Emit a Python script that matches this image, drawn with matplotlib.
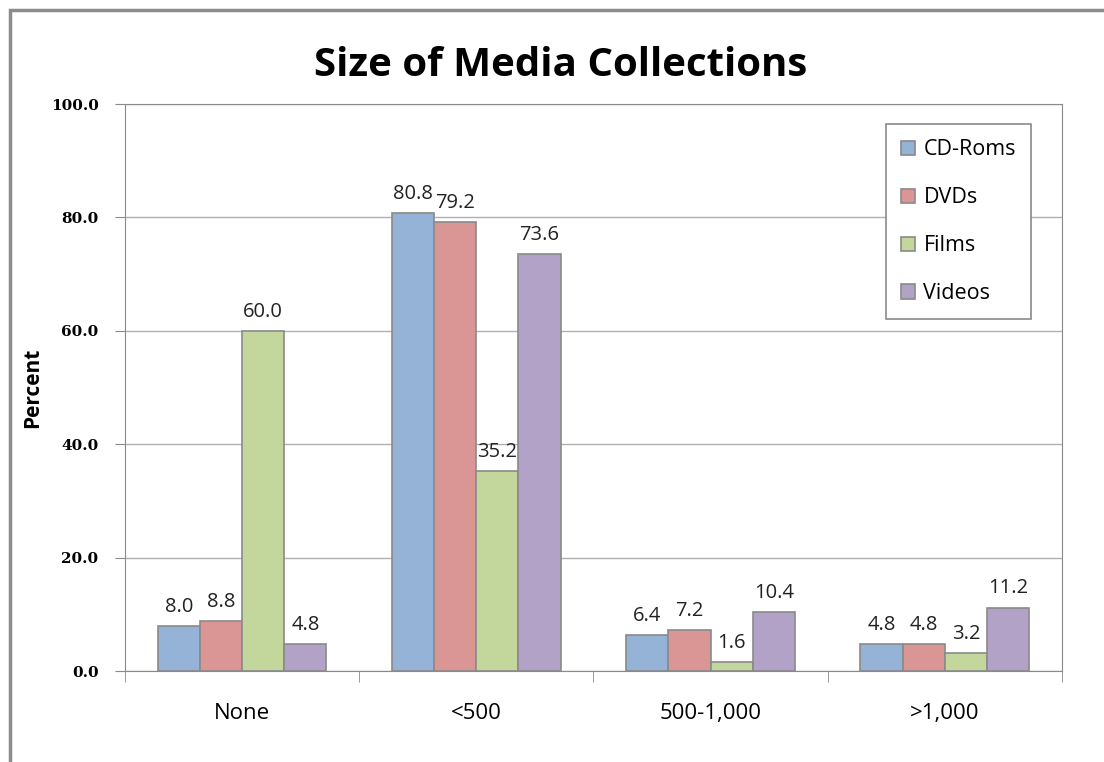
import numpy as np
import matplotlib.pyplot as plt
from matplotlib.patches import Rectangle

categories = ['None', '<500', '500-1,000', '>1,000']
series = ['CD-Roms', 'DVDs', 'Films', 'Videos']
cd_roms = [8.0, 80.8, 6.4, 4.8]
dvds = [8.8, 79.2, 7.2, 4.8]
films = [60.0, 35.2, 1.6, 3.2]
videos = [4.8, 73.6, 10.4, 11.2]
colors = ['#95B3D7', '#D99694', '#C3D69B', '#B3A2C7']

plt.rcParams['font.family'] = ['Open Sans', 'DejaVu Sans']

fig = plt.figure(figsize=(11.04, 7.62), dpi=100)
ax = fig.add_axes([0.1132, 0.1194, 0.8487, 0.7441])

# chart border (only top/left visible in the crop)
fig.patches.append(Rectangle((0.009, -0.05), 1.2, 1.037, transform=fig.transFigure,
                             fill=False, edgecolor='#8c8c8c', lw=2.5))

x = np.arange(len(categories))
w = 0.18
data = [cd_roms, dvds, films, videos]
for i, (name, vals) in enumerate(zip(series, data)):
    pos = x + (i - 1.5) * w
    ax.bar(pos, vals, w, color=colors[i], edgecolor='#8a8a8a', linewidth=1.2,
           label=name, zorder=3)
    for p, v in zip(pos, vals):
        ax.text(p, v + 1.6, f'{v:.1f}', ha='center', va='bottom', fontsize=14.5,
                color='#222222', zorder=4)

ax.set_xlim(-0.5, 3.5)
ax.set_ylim(0, 100)
ax.set_yticks(np.arange(0, 101, 20))
ax.set_yticklabels([f'{v:.1f}' for v in np.arange(0, 101, 20)],
                   fontweight='bold', family='DejaVu Serif', fontsize=11)
ax.yaxis.grid(True, color='#b0b0b0', lw=1, zorder=0)
ax.set_xticks(x)
ax.set_xticklabels(categories, fontsize=16)
ax.tick_params(axis='x', length=0, pad=23)
ax.set_xticks(np.arange(-0.5, 3.6, 1), minor=True)
ax.tick_params(axis='x', which='minor', length=8, color='#8a8a8a', direction='out')
ax.tick_params(axis='y', length=7, color='#8a8a8a', direction='out', pad=12)
for s in ax.spines.values():
    s.set_color('#8a8a8a')
ax.set_ylabel('Percent', fontsize=15, fontweight='bold')
ax.yaxis.set_label_coords(-0.087, 0.5)

fig.suptitle('Size of Media Collections', fontsize=29, fontweight='bold', y=0.94, x=0.508)

leg = ax.legend(loc='upper right', bbox_to_anchor=(0.967, 0.964), fontsize=15.5,
                frameon=True, fancybox=False, edgecolor='#8a8a8a', framealpha=1,
                handlelength=0.65, handleheight=0.65, labelspacing=1.25,
                borderpad=0.7, handletextpad=0.4, borderaxespad=0)
leg.get_frame().set_linewidth(1.2)

fig.savefig('out.png', dpi=100)
